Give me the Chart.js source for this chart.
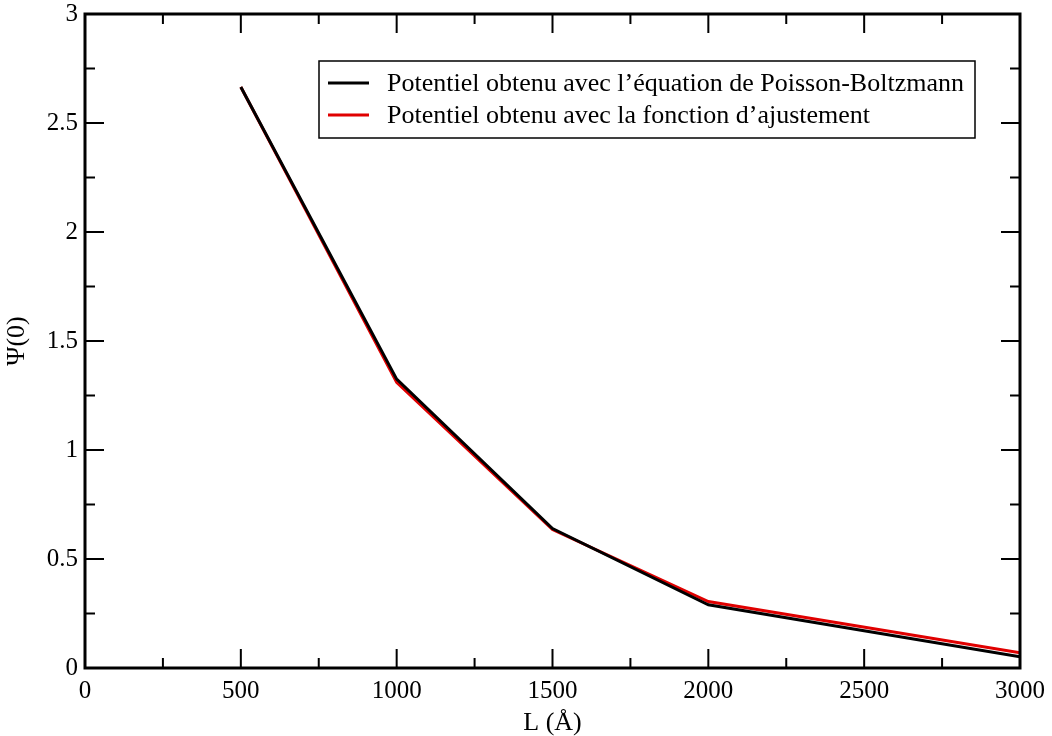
<!DOCTYPE html>
<html>
<head>
<meta charset="utf-8">
<script src="https://cdn.jsdelivr.net/npm/chart.js@4/dist/chart.umd.min.js"></script>
<style>
  html, body { margin: 0; padding: 0; background: #fff; }
  #wrap { width: 1052px; height: 736px; }
</style>
</head>
<body>
<div id="wrap"><canvas id="psiChart" width="1052" height="736"></canvas></div>
<script>
// L in Angstrom
const lengths = [500, 1000, 1500, 2000, 3000];
// Psi(0) from Poisson-Boltzmann
const psiPB = [2.665, 1.325, 0.64, 0.29, 0.052];
// Psi(0) from fitted function
const psiFit = [2.665, 1.31, 0.635, 0.305, 0.07];

const seriesLabels = [
    "Potentiel obtenu avec l\u2019\u00e9quation de Poisson-Boltzmann",
    "Potentiel obtenu avec la fonction d\u2019ajustement"
];
const xTitle = "L (\u00c5)";
const yTitle = "\u03a8(0)";

const FONT = "'Liberation Serif', 'Times New Roman', serif";

const toPoints = (xs, ys) => xs.map((x, i) => ({ x: x, y: ys[i] }));

// frame + inward ticks on all four sides, like xmgrace
const frameTicks = {
    id: 'frameTicks',
    afterDatasetsDraw(chart) {
        const { ctx, chartArea: a, scales } = chart;
        const xs = scales.x, ys = scales.y;
        const major = 19, minor = 10;
        ctx.save();
        ctx.strokeStyle = '#000';
        ctx.lineWidth = 2;
        ctx.beginPath();
        const xt = xs.ticks.map(t => t.value);
        xt.forEach((v, i) => {
            const px = xs.getPixelForValue(v);
            ctx.moveTo(px, a.bottom); ctx.lineTo(px, a.bottom - major);
            ctx.moveTo(px, a.top); ctx.lineTo(px, a.top + major);
            if (i < xt.length - 1) {
                const mx = xs.getPixelForValue((v + xt[i + 1]) / 2);
                ctx.moveTo(mx, a.bottom); ctx.lineTo(mx, a.bottom - minor);
                ctx.moveTo(mx, a.top); ctx.lineTo(mx, a.top + minor);
            }
        });
        const yt = ys.ticks.map(t => t.value);
        yt.forEach((v, i) => {
            const py = ys.getPixelForValue(v);
            ctx.moveTo(a.left, py); ctx.lineTo(a.left + major, py);
            ctx.moveTo(a.right, py); ctx.lineTo(a.right - major, py);
            if (i < yt.length - 1) {
                const my = ys.getPixelForValue((v + yt[i + 1]) / 2);
                ctx.moveTo(a.left, my); ctx.lineTo(a.left + minor, my);
                ctx.moveTo(a.right, my); ctx.lineTo(a.right - minor, my);
            }
        });
        ctx.stroke();
        ctx.lineWidth = 3;
        ctx.strokeRect(a.left, a.top, a.right - a.left, a.bottom - a.top);
        ctx.restore();
    }
};

// boxed legend inside the plot
const boxLegend = {
    id: 'boxLegend',
    afterDraw(chart) {
        const { ctx } = chart;
        const bx = 319, by = 61, bw = 656, bh = 77;
        ctx.save();
        ctx.fillStyle = '#fff';
        ctx.fillRect(bx, by, bw, bh);
        ctx.strokeStyle = '#000';
        ctx.lineWidth = 1.5;
        ctx.strokeRect(bx, by, bw, bh);
        ctx.font = '26px ' + FONT;
        ctx.textBaseline = 'middle';
        chart.data.datasets.forEach((ds, i) => {
            const cy = 83 + i * 32;
            ctx.strokeStyle = ds.borderColor;
            ctx.lineWidth = 3;
            ctx.beginPath();
            ctx.moveTo(328, cy); ctx.lineTo(369, cy);
            ctx.stroke();
            ctx.fillStyle = '#000';
            ctx.fillText(ds.label, 387, cy + 1);
        });
        ctx.restore();
    }
};

new Chart(document.getElementById('psiChart'), {
    type: 'line',
    data: {
        datasets: [
            {
                label: seriesLabels[0],
                data: toPoints(lengths, psiPB),
                borderColor: '#000000',
                borderWidth: 3,
                pointRadius: 0,
                tension: 0
            },
            {
                label: seriesLabels[1],
                data: toPoints(lengths, psiFit),
                borderColor: '#e00000',
                borderWidth: 3,
                pointRadius: 0,
                tension: 0
            }
        ]
    },
    options: {
        responsive: false,
        animation: false,
        layout: { padding: { top: 14, right: 32, left: 0, bottom: 0 } },
        plugins: { legend: { display: false }, tooltip: { enabled: false } },
        scales: {
            x: {
                type: 'linear',
                min: 0, max: 3000,
                ticks: { stepSize: 500, color: '#000', padding: 8, maxRotation: 0,
                         callback: v => String(v),
                         font: { family: FONT, size: 25 } },
                grid: { display: false, drawTicks: false },
                border: { display: false },
                title: { display: true, text: xTitle, color: '#000',
                         font: { family: FONT, size: 26, lineHeight: 1 }, padding: 0 },
                afterFit(s) { s.height = 68; s.paddingLeft = 0; s.paddingRight = 0; }
            },
            y: {
                min: 0, max: 3,
                ticks: { stepSize: 0.5, color: '#000', padding: 7,
                         callback: v => String(v),
                         font: { family: FONT, size: 25 } },
                grid: { display: false, drawTicks: false },
                border: { display: false },
                title: { display: true, text: yTitle, color: '#000',
                         font: { family: FONT, size: 26, lineHeight: 1 }, padding: 4 },
                afterFit(s) { s.width = 85; s.paddingTop = 0; s.paddingBottom = 0; }
            }
        }
    },
    plugins: [frameTicks, boxLegend]
});
</script>
</body>
</html>
